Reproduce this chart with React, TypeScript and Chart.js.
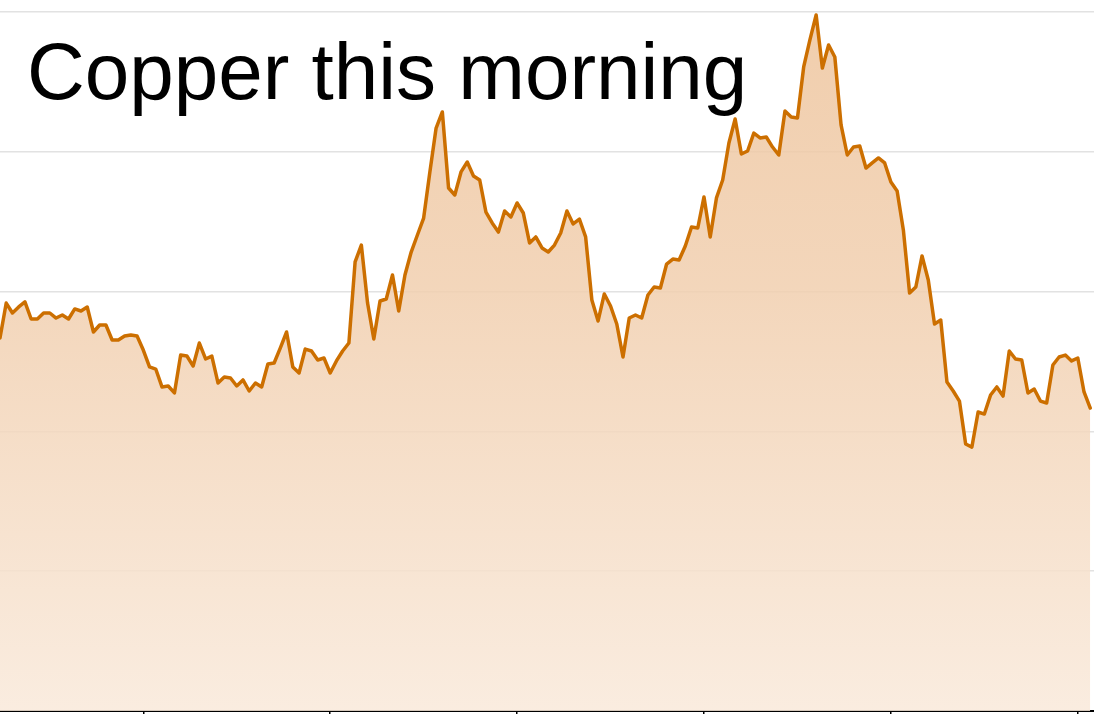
import React, { useEffect, useRef } from "react";
import { Chart, registerables } from "chart.js";

Chart.register(...registerables);

// Copper price, one value per sampling step (arbitrary units)
const prices: number[] = [
  26.68, 29.18, 28.47, 28.9, 29.26, 28.04, 28.04, 28.47, 28.47, 28.11,
  28.33, 28.04, 28.76, 28.61, 28.9, 27.11, 27.61, 27.61, 26.54, 26.54,
  26.82, 26.9, 26.82, 25.82, 24.61, 24.46, 23.18, 23.25, 22.75, 25.46,
  25.39, 24.68, 26.32, 25.18, 25.39, 23.46, 23.89, 23.82, 23.25, 23.68,
  22.89, 23.46, 23.18, 24.82, 24.89, 25.97, 27.11, 24.61, 24.18, 25.89,
  25.75, 25.11, 25.25, 24.18, 25.04, 25.75, 26.32, 32.12, 33.33, 29.18,
  26.61, 29.33, 29.47, 31.19, 28.61, 31.19, 32.83, 34.05, 35.26, 38.56,
  41.7, 42.85, 37.41, 36.91, 38.56, 39.27, 38.27, 37.98, 35.69, 34.91,
  34.26, 35.77, 35.34, 36.34, 35.62, 33.48, 33.91, 33.12, 32.83, 33.33,
  34.19, 35.77, 34.84, 35.19, 33.91, 29.4, 27.9, 29.83, 28.97, 27.68,
  25.32, 28.11, 28.33, 28.11, 29.76, 30.33, 30.26, 31.97, 32.33, 32.26,
  33.26, 34.62, 34.55, 36.77, 33.91, 36.7, 37.98, 40.63, 42.35, 39.84,
  40.06, 41.34, 40.99, 41.06, 40.34, 39.77, 42.92, 42.49, 42.42, 46.07,
  48.0, 49.79, 45.99, 47.64, 46.78, 41.92, 39.77, 40.34, 40.41, 38.84,
  39.2, 39.56, 39.2, 37.84, 37.2, 34.41, 29.9, 30.33, 32.55, 30.83,
  27.68, 27.97, 23.53, 22.89, 22.17, 19.1, 18.88, 21.39, 21.24, 22.6,
  23.18, 22.53, 25.75, 25.18, 25.11, 22.75, 23.03, 22.17, 22.03, 24.75,
  25.32, 25.46, 25.04, 25.25, 22.82, 21.67,
];

// Positions (in sample steps) of the tick marks on the time axis
const xTickSteps: number[] = [23, 53, 83, 113, 143, 173];
const xMax = 175.6;

// Value axis grid
const yMin = 0;
const yMax = 50;
const yStep = 10;

const titleText = "Copper this morning";

export default function App() {
  const canvasRef = useRef<HTMLCanvasElement | null>(null);

  useEffect(() => {
    document.body.style.margin = "0";
    const canvas = canvasRef.current;
    if (!canvas) return;

    const points = prices.map((v, i) => ({ x: i, y: v }));

    const chart = new Chart(canvas, {
      type: "line",
      data: {
        datasets: [
          {
            data: points,
            borderColor: "#cc6f00",
            borderWidth: 3.5,
            borderJoinStyle: "round",
            borderCapStyle: "round",
            pointRadius: 0,
            tension: 0,
            fill: "start",
            backgroundColor: (ctx: any) => {
              const area = ctx.chart.chartArea;
              if (!area) return "rgba(241,207,175,0.85)";
              const g = ctx.chart.ctx.createLinearGradient(0, area.top, 0, area.bottom);
              g.addColorStop(0, "rgba(238,197,158,0.85)");
              g.addColorStop(0.4, "rgba(241,207,175,0.85)");
              g.addColorStop(1, "rgba(249,233,218,0.85)");
              return g;
            },
          },
        ],
      },
      options: {
        responsive: false,
        animation: false,
        devicePixelRatio: 1,
        layout: { padding: { top: 12, left: 0, right: 0, bottom: 0 } },
        plugins: {
          legend: { display: false },
          tooltip: { enabled: false },
          title: { display: false },
        },
        scales: {
          x: {
            type: "linear",
            min: 0,
            max: xMax,
            afterBuildTicks: (scale: any) => {
              scale.ticks = xTickSteps.map((v) => ({ value: v }));
            },
            ticks: { display: false },
            grid: {
              display: true,
              drawOnChartArea: false,
              drawTicks: true,
              tickLength: 3,
              color: "#000000",
              lineWidth: 1.5,
            },
            border: { display: true, color: "#000000", width: 2 },
          },
          y: {
            min: yMin,
            max: yMax,
            ticks: { display: false, stepSize: yStep },
            grid: {
              display: true,
              drawTicks: false,
              color: "#e2e2e2",
              lineWidth: 1.5,
            },
            border: { display: false },
          },
        },
      },
    } as any);

    return () => {
      chart.destroy();
    };
  }, []);

  return (
    <div style={{ position: "relative", width: 1094, height: 714, overflow: "hidden" }}>
      <canvas ref={canvasRef} width={1094} height={714} style={{ display: "block" }} />
      <div
        style={{
          position: "absolute",
          left: 27,
          top: 32,
          fontFamily: "'Liberation Sans', Arial, Helvetica, sans-serif",
          fontSize: 80,
          lineHeight: 1,
          color: "#000",
          whiteSpace: "nowrap",
        }}
      >
        {titleText}
      </div>
    </div>
  );
}
